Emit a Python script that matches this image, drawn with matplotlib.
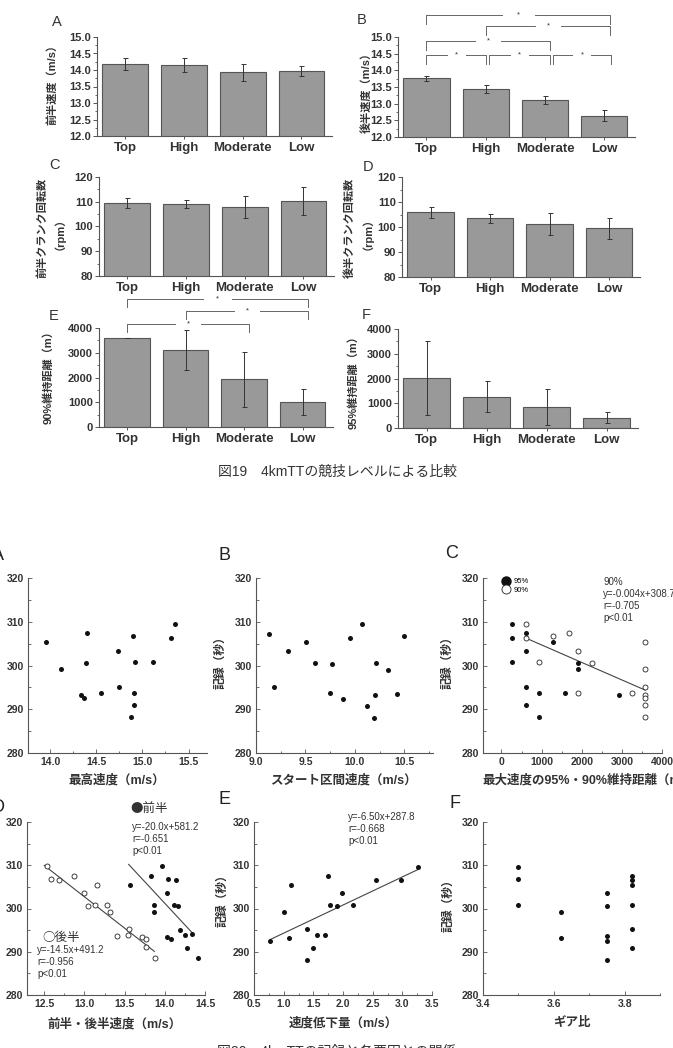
import numpy as np
import matplotlib
matplotlib.use('Agg')
import matplotlib.pyplot as plt
from matplotlib.lines import Line2D
from matplotlib.ticker import MultipleLocator, FormatStrFormatter

plt.rcParams['font.family'] = ['Liberation Sans', 'Noto Sans CJK JP', 'DejaVu Sans']

W, H = 673, 1048

# ---- fig 19: competition level comparison (mean, sd) ----
levels = ['Top', 'High', 'Moderate', 'Low']
first_speed = [14.18, 14.15, 13.93, 13.97]
first_speed_sd = [0.19, 0.21, 0.25, 0.14]
second_speed = [13.76, 13.44, 13.11, 12.64]
second_speed_sd = [0.075, 0.125, 0.125, 0.16]
first_cadence = [109.4, 109.1, 107.8, 110.3]
first_cadence_sd = [2.1, 1.6, 4.4, 5.7]
second_cadence = [106.0, 103.5, 101.2, 99.5]
second_cadence_sd = [2.2, 1.7, 4.5, 4.1]
dist90 = [3600, 3095, 1920, 1010]
dist90_sd = [0, 808, 1110, 540]
dist95 = [2005, 1260, 842, 418]
dist95_sd = [1495, 627, 734, 215]

# ---- fig 20: record vs factors ----
max_speed = [13.96, 14.12, 14.33, 14.37, 14.39, 14.40, 14.55, 14.73, 14.75,
             14.90, 14.92, 14.91, 14.91, 14.88, 15.12, 15.31, 15.35]
rec_a = [305.4, 299.1, 293.3, 292.6, 300.5, 307.4, 293.8, 303.4, 295.2,
         306.8, 300.7, 293.7, 290.9, 288.2, 300.7, 306.3, 309.6]

start_speed = [9.13, 9.18, 9.32, 9.51, 9.60, 9.77, 9.75, 9.88, 9.95,
               10.07, 10.21, 10.12, 10.20, 10.19, 10.33, 10.43, 10.50]
rec_b = [307.3, 295.1, 303.3, 305.4, 300.6, 300.4, 293.7, 292.4, 306.2,
         309.5, 300.6, 290.7, 293.2, 288.1, 299.0, 293.6, 306.8]

keep95 = [274, 274, 274, 614, 614, 614, 614, 938, 938, 1278, 1593, 1917, 1917, 2929]
rec_c95 = [309.6, 306.3, 300.7, 307.4, 303.4, 295.2, 290.9, 293.7, 288.2, 305.4, 293.7, 300.5, 299.1, 293.3]
keep90 = [614, 614, 1278, 1676, 938, 1917, 2257, 1917, 3245,
          3577, 3577, 3577, 3577, 3577, 3577, 3577]
rec_c90 = [309.6, 306.3, 306.8, 307.4, 300.7, 303.4, 300.5, 293.7, 293.8,
           305.4, 299.1, 295.2, 293.3, 292.6, 290.9, 288.2]
fit90 = (-0.004, 308.7)
fit90_range = (614, 3577)

second_half = [12.54, 12.58, 12.68, 12.87, 13.00, 13.04, 13.13, 13.15, 13.28,
               13.32, 13.40, 13.55, 13.54, 13.72, 13.76, 13.76, 13.88]
rec_d2 = [309.8, 306.9, 306.5, 307.5, 303.5, 300.5, 300.7, 305.5, 300.7,
          299.2, 293.7, 295.2, 293.9, 293.5, 292.9, 291.2, 288.5]
first_half = [13.57, 13.83, 13.86, 13.86, 13.96, 14.03, 14.04, 14.03, 14.08,
              14.14, 14.12, 14.16, 14.19, 14.25, 14.28, 14.34, 14.41]
rec_d1 = [305.5, 307.5, 300.7, 299.2, 309.8, 303.5, 306.9, 293.5, 292.9,
          306.5, 300.7, 300.5, 295.1, 293.9, 290.8, 294.1, 288.5]
fit_first = (-20.0, 581.2)
fit_first_range = (13.55, 14.35)
fit_second = (-14.5, 491.2)
fit_second_range = (12.5, 13.87)

speed_drop = [0.77, 1.01, 1.12, 1.09, 1.40, 1.40, 1.49, 1.57, 1.70,
              1.75, 1.78, 1.90, 1.99, 2.17, 2.55, 2.98, 3.26]
rec_e = [292.5, 299.2, 305.5, 293.2, 295.2, 288.1, 290.8, 293.8, 293.8,
         307.5, 300.8, 300.5, 303.5, 300.8, 306.5, 306.5, 309.6]
fit_e = (6.50, 287.8)
fit_e_range = (0.77, 3.26)

gear = [3.50, 3.50, 3.50, 3.62, 3.62, 3.75, 3.75, 3.75, 3.75, 3.75,
        3.82, 3.82, 3.82, 3.82, 3.82, 3.82]
rec_f = [309.6, 306.9, 300.7, 299.2, 293.2, 303.5, 300.5, 293.7, 292.5, 288.2,
         307.5, 306.5, 305.5, 300.8, 295.2, 290.8]

TXT = '#333333'
fig = plt.figure(figsize=(W / 100, H / 100), dpi=100)


def add_ax(left, top, right, bottom):
    return fig.add_axes([left / W, 1 - bottom / H, (right - left) / W, (bottom - top) / H])


def ftext(x, y, s, **kw):
    kw.setdefault('color', TXT)
    fig.text(x / W, 1 - y / H, s, **kw)


def bar_panel(rect, vals, sds, ylim, major, minor, fmt):
    ax = add_ax(*rect)
    x = np.arange(len(levels))
    ax.bar(x, vals, width=0.78, color='#999999', edgecolor='#555555', linewidth=0.8, zorder=2)
    ax.errorbar(x, vals, yerr=sds, fmt='none', ecolor='#333333', elinewidth=0.7,
                capsize=1.8, capthick=0.7, zorder=3)
    ax.set_xlim(-0.48, 3.52)
    ax.set_ylim(*ylim)
    ax.set_xticks(x)
    ax.set_xticklabels(levels, fontsize=9.5, fontweight='bold', color=TXT)
    ax.yaxis.set_major_locator(MultipleLocator(major))
    ax.yaxis.set_minor_locator(MultipleLocator(minor))
    ax.yaxis.set_major_formatter(FormatStrFormatter(fmt))
    for lab in ax.get_yticklabels():
        lab.set_fontweight('bold')
    ax.tick_params(axis='y', labelsize=8, colors='#555555', labelcolor=TXT, length=3, width=0.7, pad=1.5)
    ax.tick_params(axis='y', which='minor', length=1.8, width=0.6, colors='#555555')
    ax.tick_params(axis='x', length=2.5, width=0.7, colors='#555555', labelcolor=TXT, pad=2)
    for s in ['top', 'right']:
        ax.spines[s].set_visible(False)
    for s in ['left', 'bottom']:
        ax.spines[s].set_color('#555555')
        ax.spines[s].set_linewidth(0.8)
    return ax


def bracket(ax, x1, x2, y, leg, gap):
    xm = (x1 + x2) / 2
    kw = dict(color='#666666', lw=0.7, clip_on=False, zorder=4)
    ax.plot([x1, x1, xm - gap], [y - leg, y, y], **kw)
    ax.plot([xm + gap, x2, x2], [y, y, y - leg], **kw)
    ax.text(xm, y, '*', ha='center', va='center', fontsize=5.5, color=TXT, clip_on=False)


# ---------------- Figure 19 ----------------
axA = bar_panel((97, 37, 332, 136), first_speed, first_speed_sd, (12.0, 15.0), 0.5, 0.25, '%.1f')
axB = bar_panel((398, 37, 635, 137), second_speed, second_speed_sd, (12.0, 15.0), 0.5, 0.25, '%.1f')
axC = bar_panel((99, 177, 334, 276), first_cadence, first_cadence_sd, (80, 120), 10, 5, '%d')
axD = bar_panel((402, 177, 640, 277), second_cadence, second_cadence_sd, (80, 120), 10, 5, '%d')
axE = bar_panel((99, 328, 333, 427), dist90, dist90_sd, (0, 4000), 1000, 500, '%d')
axF = bar_panel((398, 329, 638, 428), dist95, dist95_sd, (0, 4000), 1000, 500, '%d')

# significance brackets
for x1, x2, y, gap in [(0, 3.1, 15.67, 0.28), (1.0, 3.1, 15.32, 0.22), (0, 2.08, 14.89, 0.22),
                       (0, 1.0, 14.47, 0.16), (1.05, 2.08, 14.47, 0.16), (2.13, 3.12, 14.47, 0.16)]:
    bracket(axB, x1, x2, y, 0.27, gap)
for x1, x2, y, gap in [(0, 3.1, 5170, 0.25), (1.0, 3.1, 4690, 0.22), (0, 2.09, 4160, 0.22)]:
    bracket(axE, x1, x2, y, 320, gap)

for letter, x, y in [('A', 57, 22), ('B', 362, 20), ('C', 54, 165), ('D', 368, 167),
                     ('E', 54, 316), ('F', 366, 315)]:
    ftext(x, y, letter, fontsize=10.5, ha='center', va='center')

yl = dict(rotation=90, ha='center', va='center', fontsize=8, fontweight='bold')
ftext(52, 82, '前半速度（m/s）', **yl)
ftext(366, 90, '後半速度（m/s）', **yl)
ftext(48, 228, '前半クランク回転数\n（rpm）', linespacing=1.1, **yl)
ftext(356, 228, '後半クランク回転数\n（rpm）', linespacing=1.1, **yl)
ftext(48, 375, '90%維持距離（m）', **yl)
ftext(353, 380, '95%維持距離（m）', **yl)

ftext(338, 472, '図19　4kmTTの競技レベルによる比較', fontsize=10, ha='center', va='center')


# ---------------- Figure 20 ----------------
def scatter_panel(rect, xlim, xmajor, xminor, xfmt):
    ax = add_ax(*rect)
    ax.set_xlim(*xlim)
    ax.set_ylim(280, 320)
    ax.xaxis.set_major_locator(MultipleLocator(xmajor))
    ax.xaxis.set_minor_locator(MultipleLocator(xminor))
    ax.xaxis.set_major_formatter(FormatStrFormatter(xfmt))
    ax.yaxis.set_major_locator(MultipleLocator(10))
    ax.yaxis.set_minor_locator(MultipleLocator(5))
    ax.tick_params(which='both', direction='in', colors='#555555', labelcolor=TXT, width=0.6)
    ax.tick_params(which='major', length=3, labelsize=7.5, pad=3)
    ax.tick_params(which='minor', length=1.8)
    for lab in ax.get_xticklabels() + ax.get_yticklabels():
        lab.set_fontweight('bold')
    for s in ['top', 'right']:
        ax.spines[s].set_visible(False)
    for s in ['left', 'bottom']:
        ax.spines[s].set_color('#555555')
        ax.spines[s].set_linewidth(0.8)
    return ax


dot = dict(s=13, color='#111111', zorder=3, linewidths=0)
ring = dict(s=13, facecolor='white', edgecolor='#222222', linewidths=0.6, zorder=3)
fitline = dict(color='#444444', lw=0.8, zorder=2)

sA = scatter_panel((28, 578, 207, 753), (13.76, 15.7), 0.5, 0.25, '%.1f')
sA.scatter(max_speed, rec_a, **dot)

sB = scatter_panel((256, 578, 433, 753), (9.0, 10.79), 0.5, 0.25, '%.1f')
sB.scatter(start_speed, rec_b, **dot)

sC = scatter_panel((483, 578, 662, 753), (-460, 4000), 1000, 500, '%d')
sC.scatter(keep95, rec_c95, **dot)
sC.scatter(keep90, rec_c90, **ring)
xc = np.array(fit90_range)
sC.plot(xc, fit90[0] * xc + fit90[1], **fitline)
sC.legend(handles=[Line2D([], [], marker='o', ls='none', color='#111111', markersize=6.5, label='95%'),
                   Line2D([], [], marker='o', ls='none', markerfacecolor='white',
                          markeredgecolor='#222222', markeredgewidth=0.6, markersize=6.5, label='90%')],
          loc='upper left', bbox_to_anchor=(0.08, 1.03), frameon=False, fontsize=5.5,
          handlelength=1.0, handletextpad=0.4, labelspacing=0.15, borderpad=0.2)

sD = scatter_panel((27, 822, 205, 995), (12.285, 14.5), 0.5, 0.25, '%.1f')
sD.scatter(first_half, rec_d1, **dot)
sD.scatter(second_half, rec_d2, **ring)
xd1 = np.array(fit_first_range)
xd2 = np.array(fit_second_range)
sD.plot(xd1, fit_first[0] * xd1 + fit_first[1], **fitline)
sD.plot(xd2, fit_second[0] * xd2 + fit_second[1], **fitline)

sE = scatter_panel((254, 822, 432, 995), (0.5, 3.5), 0.5, 0.25, '%.1f')
sE.scatter(speed_drop, rec_e, **dot)
xe = np.array(fit_e_range)
sE.plot(xe, fit_e[0] * xe + fit_e[1], **fitline)

sF = scatter_panel((483, 822, 660, 995), (3.4, 3.9), 0.2, 0.1, '%.1f')
sF.scatter(gear, rec_f, **dot)

# panel letters (A and D cut at the left edge, as in the source page)
for letter, x, y in [('A', -2, 556), ('B', 225, 555), ('C', 452, 554),
                     ('D', -2, 808), ('E', 225, 800), ('F', 455, 803)]:
    ftext(x, y, letter, fontsize=13, ha='center', va='center', color='#222222')

xl = dict(ha='center', va='center', fontsize=9, fontweight='bold')
ftext(117, 780, '最高速度（m/s）', **xl)
ftext(343, 780, 'スタート区間速度（m/s）', **xl)
ftext(588, 780, '最大速度の95%・90%維持距離（m）', **xl)
ftext(115, 1024, '前半・後半速度（m/s）', **xl)
ftext(343, 1023, '速度低下量（m/s）', **xl)
ftext(572, 1023, 'ギア比', **xl)

yl2 = dict(rotation=90, ha='center', va='center', fontsize=8.5, fontweight='bold')
for x, y in [(220, 660), (447, 660), (222, 898), (448, 903)]:
    ftext(x, y, '記録（秒）', **yl2)

cjk = ['Noto Sans CJK JP', 'DejaVu Sans']
st = dict(fontsize=7, ha='left', va='top', linespacing=1.25)
ftext(603, 577, '90%\ny=-0.004x+308.7\nr=-0.705\np<0.01', **st)
ftext(130, 808, '●前半', fontsize=9, ha='left', va='center', family=cjk)
ftext(132, 822, 'y=-20.0x+581.2\nr=-0.651\np<0.01', **st)
ftext(42, 937, '○後半', fontsize=9, ha='left', va='center', family=cjk)
ftext(37, 945, 'y=-14.5x+491.2\nr=-0.956\np<0.01', **st)
ftext(348, 812, 'y=-6.50x+287.8\nr=-0.668\np<0.01', **st)

ftext(337, 1045, '図20　4kmTTの記録と各要因との関係', fontsize=10, ha='center', va='top')

fig.savefig('out.png', dpi=100, facecolor='white')
